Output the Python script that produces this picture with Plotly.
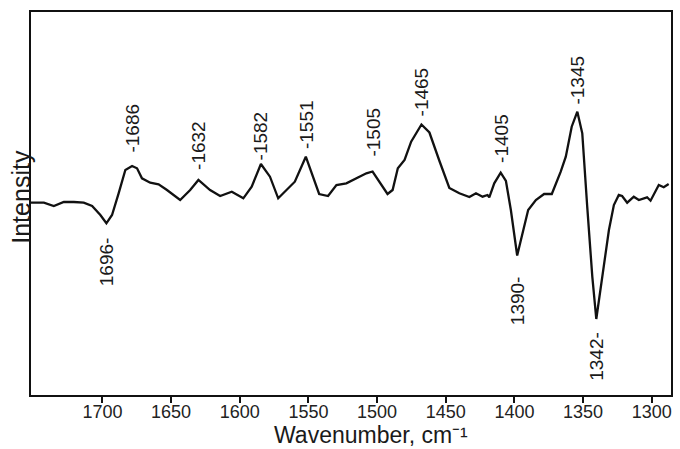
import plotly.graph_objects as go
import numpy as np

# Spectrum (wavenumber in cm^-1, intensity in arbitrary units)
wavenumber = [1752.0, 1742.6, 1735.4, 1728.1, 1720.8, 1713.6, 1707.5, 1701.5, 1697.1, 1693.0,
              1688.2, 1683.3, 1678.4, 1674.8, 1671.2, 1665.2, 1659.1, 1653.0, 1643.4, 1636.1,
              1630.1, 1621.6, 1614.3, 1605.8, 1597.4, 1591.3, 1584.6, 1578.0, 1572.0, 1565.9,
              1559.9, 1551.9, 1546.6, 1542.2, 1535.7, 1529.6, 1522.4, 1515.1, 1507.8, 1503.3,
              1498.2, 1492.4, 1488.7, 1484.9, 1480.0, 1475.2, 1467.7, 1461.9, 1454.6, 1449.8,
              1447.4, 1440.1, 1432.8, 1428.0, 1423.2, 1419.6, 1418.3, 1414.7, 1410.0, 1406.2,
              1402.6, 1398.0, 1392.9, 1390.0, 1384.4, 1378.4, 1372.8, 1366.3, 1362.6, 1358.3,
              1354.2, 1350.6, 1347.0, 1343.3, 1340.4, 1336.1, 1331.2, 1327.6, 1324.0, 1321.6,
              1317.9, 1313.1, 1309.4, 1303.4, 1300.9, 1294.9, 1291.3, 1287.7]
intensity = [0.003, 0.003, -0.03, 0.01, 0.01, 0.003, -0.03, -0.12, -0.203, -0.12,
             0.097, 0.33, 0.37, 0.347, 0.247, 0.203, 0.187, 0.13, 0.03, 0.13,
             0.23, 0.13, 0.07, 0.113, 0.047, 0.163, 0.39, 0.263, 0.047, 0.13,
             0.213, 0.463, 0.263, 0.09, 0.07, 0.18, 0.197, 0.247, 0.297, 0.315,
             0.213, 0.09, 0.13, 0.347, 0.43, 0.613, 0.785, 0.705, 0.42, 0.23,
             0.15, 0.097, 0.06, 0.097, 0.063, 0.08, 0.057, 0.197, 0.303, 0.22,
             -0.07, -0.525, -0.237, -0.07, 0.03, 0.09, 0.09, 0.313, 0.463, 0.763,
             0.913, 0.697, -0.037, -0.737, -1.16, -0.737, -0.27, -0.02, 0.08, 0.07,
             0.003, 0.063, 0.03, 0.057, 0.023, 0.18, 0.157, 0.19]

x_ticks = [1700, 1650, 1600, 1550, 1500, 1450, 1400, 1350, 1300]

peak_labels = ["1686", "1632", "1582", "1551", "1505", "1465", "1405", "1345"]
peak_near = [1679, 1630, 1585, 1552, 1503, 1468, 1410, 1354]
trough_labels = ["1696", "1390", "1342"]
trough_near = [1697, 1398, 1340]

# styling / placement (pixels)
peak_gap = [11, 8, 2, 6, 13, 6, 8, 5]
trough_gap = [12, 19, 11]

FONT = "Liberation Sans, Arial, sans-serif"
wn = np.array(wavenumber)
it = np.array(intensity)

fig = go.Figure()
fig.add_trace(go.Scatter(x=wavenumber, y=intensity, mode="lines",
                         line=dict(color="#111111", width=2.3), hoverinfo="skip"))

annotations = []
def extremum(near, fn):
    idx = np.where(np.abs(wn - near) <= 6)[0]
    j = idx[fn(it[idx])]
    return wn[j], it[j]

for lab, nr, g in zip(peak_labels, peak_near, peak_gap):
    x0, y0 = extremum(nr, np.argmax)
    annotations.append(dict(x=x0, y=y0, xref="x", yref="y", text="-" + lab,
                            textangle=-90, showarrow=False, xanchor="center",
                            yanchor="bottom", yshift=g,
                            font=dict(family=FONT, size=19, color="#1a1a1a")))
for lab, nr, g in zip(trough_labels, trough_near, trough_gap):
    x0, y0 = extremum(nr, np.argmin)
    annotations.append(dict(x=x0, y=y0, xref="x", yref="y", text=lab + "-",
                            textangle=-90, showarrow=False, xanchor="center",
                            yanchor="top", yshift=-g,
                            font=dict(family=FONT, size=19, color="#1a1a1a")))

annotations.append(dict(x=0.531, y=-0.141, xref="paper", yref="paper",
                        text="Wavenumber, cm⁻¹", showarrow=False,
                        xanchor="center", yanchor="bottom", borderpad=0,
                        font=dict(family=FONT, size=23, color="#1a1a1a")))
annotations.append(dict(x=-0.017, y=0.518, xref="paper", yref="paper",
                        text="Intensity", textangle=-90, showarrow=False,
                        xanchor="center", yanchor="middle",
                        font=dict(family=FONT, size=25, color="#1a1a1a")))

fig.update_layout(
    width=680, height=449,
    margin=dict(l=31, r=7, t=12, b=54),
    paper_bgcolor="white", plot_bgcolor="white",
    showlegend=False,
    annotations=annotations,
    xaxis=dict(range=[1752, 1286], tickvals=x_ticks, ticktext=[str(t) for t in x_ticks],
               ticks="outside", ticklen=6, tickwidth=1.5, tickcolor="#111",
               ticklabelstandoff=-7,
               showline=True, linecolor="#111", linewidth=2, mirror=True,
               showgrid=False, zeroline=False,
               tickfont=dict(family=FONT, size=18, color="#222")),
    yaxis=dict(range=[-1.92, 1.91], showticklabels=False, ticks="",
               showline=True, linecolor="#111", linewidth=2, mirror=True,
               showgrid=False, zeroline=False),
)

fig.write_html("out.html", config={"displayModeBar": False},
               post_script="document.body.style.margin='0px';")
